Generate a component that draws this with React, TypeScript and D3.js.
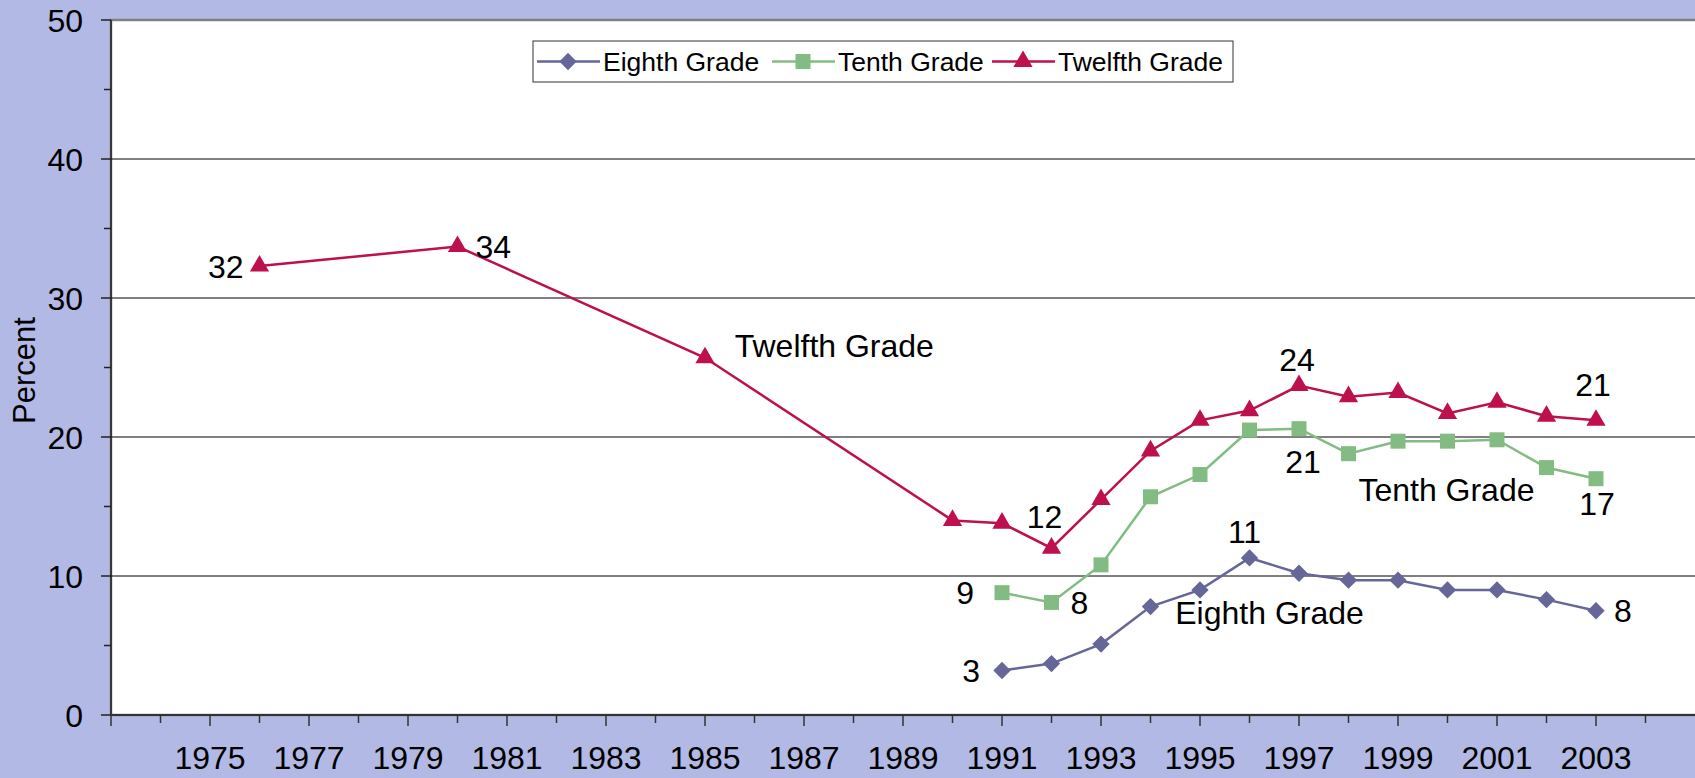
import React, { useEffect, useRef } from 'react';
import * as d3 from 'd3';

// values (percent)
const twelfthYears = [1976, 1980, 1985, 1990, 1991, 1992, 1993, 1994, 1995, 1996, 1997, 1998, 1999, 2000, 2001, 2002, 2003];
const twelfthValues = [32.3, 33.7, 25.7, 14.0, 13.8, 12.0, 15.5, 19.0, 21.2, 21.9, 23.7, 22.9, 23.2, 21.7, 22.5, 21.5, 21.2];
const laterYears = [1991, 1992, 1993, 1994, 1995, 1996, 1997, 1998, 1999, 2000, 2001, 2002, 2003];
const tenthValues = [8.8, 8.1, 10.8, 15.7, 17.3, 20.5, 20.6, 18.8, 19.7, 19.7, 19.8, 17.8, 17.0];
const eighthValues = [3.2, 3.7, 5.1, 7.8, 9.0, 11.3, 10.2, 9.7, 9.7, 9.0, 9.0, 8.3, 7.5];
const yTicks = [0, 10, 20, 30, 40, 50];
const yearLabels = d3.range(1975, 2004, 2);

// label text, year, value, offsets
const pointLabels = [
  { text: '32', year: 1976, value: 32.3, dx: -16, dy: 0, anchor: 'end' },
  { text: '34', year: 1980, value: 33.7, dx: 18, dy: 0, anchor: 'start' },
  { text: '12', year: 1992, value: 12.0, dx: -7, dy: -32, anchor: 'middle' },
  { text: '24', year: 1997, value: 23.7, dx: -2, dy: -26, anchor: 'middle' },
  { text: '21', year: 2003, value: 21.2, dx: -3, dy: -36, anchor: 'middle' },
  { text: '21', year: 1997, value: 20.6, dx: 4, dy: 33, anchor: 'middle' },
  { text: '17', year: 2003, value: 17.0, dx: 1, dy: 25, anchor: 'middle' },
  { text: '9', year: 1991, value: 8.8, dx: -28, dy: 0, anchor: 'end' },
  { text: '8', year: 1992, value: 8.1, dx: 19, dy: 0, anchor: 'start' },
  { text: '11', year: 1996, value: 11.3, dx: -5, dy: -26, anchor: 'middle' },
  { text: '3', year: 1991, value: 3.2, dx: -22, dy: 0, anchor: 'end' },
  { text: '8', year: 2003, value: 7.5, dx: 18, dy: 0, anchor: 'start' },
];

const seriesNotes = [
  { text: 'Twelfth Grade', year: 1985.6, value: 26.6 },
  { text: 'Tenth Grade', year: 1998.2, value: 16.2 },
  { text: 'Eighth Grade', year: 1994.5, value: 7.4 },
];

// squat diamond like the spreadsheet marker
const diamondShape = {
  draw(ctx: any, size: number) {
    const r = Math.sqrt(size / 2);
    ctx.moveTo(0, -r);
    ctx.lineTo(r, 0);
    ctx.lineTo(0, r);
    ctx.lineTo(-r, 0);
    ctx.closePath();
  },
};

const App = () => {
  const ref = useRef<SVGSVGElement | null>(null);

  useEffect(() => {
    const W = 1695, H = 778;
    const margin = { top: 20, right: 0, bottom: 63, left: 111 };
    const font = '"Liberation Sans", Arial, sans-serif';

    const svg = d3.select(ref.current);
    svg.selectAll('*').remove();

    const x = d3.scaleLinear().domain([1973, 2005]).range([margin.left, W - margin.right]);
    const y = d3.scaleLinear().domain([0, 50]).range([H - margin.bottom, margin.top]);

    svg.append('rect').attr('width', W).attr('height', H).attr('fill', '#b3b9e5');
    svg.append('rect')
      .attr('x', margin.left).attr('y', margin.top)
      .attr('width', W - margin.left + 5).attr('height', y(0) - margin.top)
      .attr('fill', '#fff').attr('stroke', '#808080').attr('stroke-width', 2.5);

    // gridlines
    svg.selectAll('.grid').data(yTicks.filter(d => d > 0 && d < 50)).enter().append('line')
      .attr('x1', margin.left).attr('x2', W)
      .attr('y1', d => y(d)).attr('y2', d => y(d))
      .attr('stroke', '#000').attr('stroke-width', 1);

    // y axis
    svg.append('line').attr('x1', margin.left).attr('x2', margin.left)
      .attr('y1', margin.top).attr('y2', y(0)).attr('stroke', '#222').attr('stroke-width', 1.5);
    svg.selectAll('.ymin').data(d3.range(5, 50, 10)).enter().append('line')
      .attr('x1', margin.left - 7).attr('x2', margin.left)
      .attr('y1', d => y(d)).attr('y2', d => y(d)).attr('stroke', '#222').attr('stroke-width', 1.5);
    svg.selectAll('.ymaj').data(yTicks).enter().append('line')
      .attr('x1', margin.left - 10).attr('x2', margin.left)
      .attr('y1', d => y(d)).attr('y2', d => y(d)).attr('stroke', '#222').attr('stroke-width', 1.5);
    svg.selectAll('.ylab').data(yTicks).enter().append('text')
      .attr('x', margin.left - 28).attr('y', d => y(d)).attr('dy', '0.36em')
      .attr('text-anchor', 'end').style('font-family', font).style('font-size', '32px')
      .text(d => d);
    svg.append('text')
      .attr('transform', `translate(35,${(margin.top + y(0)) / 2 + 3}) rotate(-90)`)
      .attr('text-anchor', 'middle').style('font-family', font).style('font-size', '31px')
      .text('Percent');

    // x axis
    svg.append('line').attr('x1', margin.left).attr('x2', W)
      .attr('y1', y(0)).attr('y2', y(0)).attr('stroke', '#333').attr('stroke-width', 2);
    svg.selectAll('.xt').data(d3.range(1973, 2005)).enter().append('line')
      .attr('x1', d => x(d)).attr('x2', d => x(d))
      .attr('y1', y(0)).attr('y2', d => y(0) + (d % 2 === 1 ? 11 : 8))
      .attr('stroke', '#333').attr('stroke-width', 1.5);
    svg.selectAll('.xlab').data(yearLabels).enter().append('text')
      .attr('x', d => x(d)).attr('y', 769)
      .attr('text-anchor', 'middle').style('font-family', font).style('font-size', '32px')
      .text(d => d);

    const series = [
      { name: 'Eighth Grade', color: '#666699', years: laterYears, values: eighthValues, symbol: diamondShape, size: 150 },
      { name: 'Tenth Grade', color: '#82bc82', years: laterYears, values: tenthValues, symbol: d3.symbolSquare, size: 225 },
      { name: 'Twelfth Grade', color: '#be104c', years: twelfthYears, values: twelfthValues, symbol: d3.symbolTriangle, size: 160 },
    ];

    const line = d3.line<[number, number]>().x(d => x(d[0])).y(d => y(d[1]));

    series.forEach(s => {
      const pts = s.years.map((yr, i) => [yr, s.values[i]] as [number, number]);
      svg.append('path').datum(pts).attr('d', line)
        .attr('fill', 'none').attr('stroke', s.color).attr('stroke-width', 2.5);
      const sym = d3.symbol().type(s.symbol as any).size(s.size);
      svg.selectAll(null).data(pts).enter().append('path')
        .attr('d', sym)
        .attr('transform', d => `translate(${x(d[0])},${y(d[1])})`)
        .attr('fill', s.color);
    });

    // point value labels
    svg.selectAll('.plab').data(pointLabels).enter().append('text')
      .attr('x', d => x(d.year) + d.dx).attr('y', d => y(d.value) + d.dy).attr('dy', '0.36em')
      .attr('text-anchor', d => d.anchor)
      .style('font-family', font).style('font-size', '32px')
      .text(d => d.text);

    // series notes
    svg.selectAll('.note').data(seriesNotes).enter().append('text')
      .attr('x', d => x(d.year)).attr('y', d => y(d.value)).attr('dy', '0.36em')
      .style('font-family', font).style('font-size', '32px')
      .text(d => d.text);

    // legend
    const lg = svg.append('g');
    lg.append('rect').attr('x', 533).attr('y', 41).attr('width', 700).attr('height', 41)
      .attr('fill', '#fff').attr('stroke', '#333').attr('stroke-width', 1);
    const legendX = [537, 772, 992];
    series.forEach((s, i) => {
      const lx = legendX[i];
      lg.append('line').attr('x1', lx).attr('x2', lx + 63).attr('y1', 61.5).attr('y2', 61.5)
        .attr('stroke', s.color).attr('stroke-width', 2.5);
      lg.append('path').attr('d', d3.symbol().type(s.symbol as any).size(s.size)())
        .attr('transform', `translate(${lx + 31},61.5)`)
        .attr('fill', s.color);
      lg.append('text').attr('x', lx + 66).attr('y', 61.5).attr('dy', '0.36em')
        .style('font-family', font).style('font-size', '26.5px')
        .text(s.name);
    });
  }, []);

  return (
    <svg ref={ref} width={1695} height={778}
      style={{ position: 'absolute', left: 0, top: 0, display: 'block' }} />
  );
};

export default App;
